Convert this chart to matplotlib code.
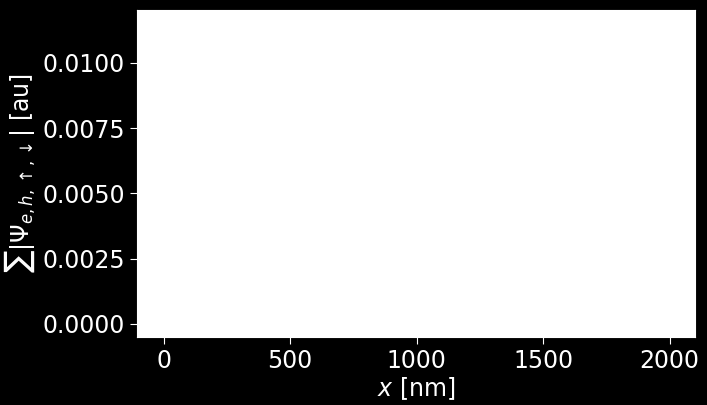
import matplotlib
matplotlib.use("Agg")
import matplotlib.pyplot as plt

# Data extent (the plotted curves are not visible in the reference: white on white)
x_nm = [0, 2000]
psi_sum = [0.0, 0.0115]

x_ticks = [0, 500, 1000, 1500, 2000]
y_ticks = [0.0, 0.0025, 0.0050, 0.0075, 0.0100]

plt.rcParams['font.family'] = ['DejaVu Sans']
fig = plt.figure(figsize=(7.07, 4.05), dpi=100, facecolor='black')
ax = fig.add_axes([137/707, 1 - 337/405, (695-137)/707, (337-10)/405])
ax.set_facecolor('white')
ax.plot(x_nm, psi_sum, color='white', lw=1)
ax.set_xlim(-105, 2100)
ax.set_ylim(-0.0005, 0.01203)
ax.set_xticks(x_ticks)
ax.set_yticks(y_ticks)
ax.set_yticklabels([f"{v:.4f}" for v in y_ticks])
ax.tick_params(colors='white', labelsize=17, length=5)
for s in ax.spines.values():
    s.set_color('white')
ax.set_xlabel(r'$x$ [nm]', color='white', fontsize=17, labelpad=2)
ax.set_ylabel(r'$\sum|\Psi_{e,h,\uparrow,\downarrow}|$ [au]', color='white', fontsize=17, labelpad=4)
fig.savefig('out.png', facecolor='black')
